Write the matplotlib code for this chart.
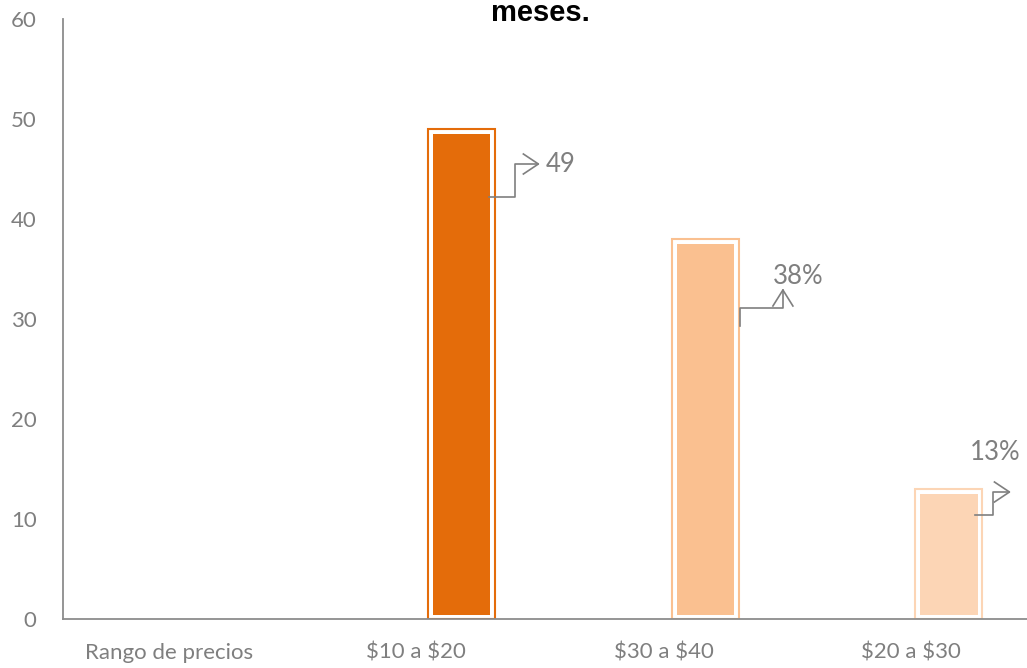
import matplotlib
matplotlib.use('Agg')
import matplotlib.pyplot as plt
import numpy as np

plt.rcParams['font.family'] = ['Lato', 'DejaVu Sans']
plt.rcParams['text.parse_math'] = False

# datos
categorias = ['Rango de precios', '$10 a $20', '$30 a $40', '$20 a $30']
valores = [0, 49, 38, 13]
etiquetas = ['', '49', '38%', '13%']
colores = ['#E46C0A', '#E46C0A', '#FAC090', '#FCD5B5']

gris = '#7F7F7F'
eje = '#8C8C8C'

fig = plt.figure(figsize=(10.27, 6.68), dpi=100)
ax = fig.add_axes([63 / 1027, 49 / 668, 1 - 63 / 1027, 600 / 668])

x = np.arange(len(categorias))
v = np.array(valores, dtype=float)
hay = v > 0
desplaz = 0.175   # la serie va corrida a la derecha dentro de cada categoria
ancho = 0.272
xb = x + desplaz - 0.016 * (x - 1.5)

# borde exterior + hueco blanco + relleno interior
ax.bar(xb[hay], v[hay], width=ancho, color='none',
       edgecolor=[c for c, h in zip(colores, hay) if h], linewidth=1.5, zorder=2)
ins_x = 0.02
ins_y = 0.45
ax.bar(xb[hay], v[hay] - 2 * ins_y, bottom=ins_y, width=ancho - 2 * ins_x,
       color=[c for c, h in zip(colores, hay) if h], edgecolor='none', zorder=3)

ax.set_xlim(-0.428, 3.467)
ax.set_ylim(0, 60)
ax.set_yticks(range(0, 61, 10))
ax.set_xticks(x)
ax.set_xticklabels(categorias)
ax.tick_params(axis='both', length=0, colors=gris, labelsize=16)
ax.tick_params(axis='y', pad=19)
ax.tick_params(axis='x', pad=17)
for s in ['top', 'right']:
    ax.spines[s].set_visible(False)
for s in ['left', 'bottom']:
    ax.spines[s].set_color(eje)
    ax.spines[s].set_linewidth(1.3)

fig.text(540 / 1027, 1 - 21 / 668, 'meses.', ha='center', va='baseline',
         fontsize=21, fontweight='bold', family='Liberation Sans', color='black')

# lineas guia de las etiquetas (en pixeles, desde la esquina sup. derecha de la barra)
guias = [
    None,
    dict(path=[(-6, -68), (20, -68), (20, -35), (43, -35)], flecha='der', texto=(50, -35), ha='left'),
    dict(path=[(1, -87), (1, -69), (44, -69), (44, -51)], flecha='arr', texto=(59, -38), ha='center'),
    dict(path=[(-7, -26), (11, -26), (11, -3), (27, -3)], flecha='der', texto=(13, 36), ha='center'),
]

fig.canvas.draw()
for i, g in enumerate(guias):
    if g is None:
        continue
    ax0, ay0 = ax.transData.transform((xb[i] + ancho / 2, valores[i]))
    px = [ax0 + p[0] for p in g['path']]
    py = [ay0 + p[1] for p in g['path']]
    ax.plot(px, py, color=gris, lw=1.2, transform=None, zorder=4, clip_on=False)
    tx, ty = px[-1], py[-1]
    if g['flecha'] == 'der':
        wx = [tx - 15, tx, tx - 15]
        wy = [ty + 10, ty, ty - 10]
    else:
        wx = [tx - 10, tx, tx + 10]
        wy = [ty - 16, ty, ty - 16]
    ax.plot(wx, wy, color=gris, lw=1.2, transform=None, zorder=4, clip_on=False)
    ax.text(ax0 + g['texto'][0], ay0 + g['texto'][1], etiquetas[i], transform=None,
            ha=g['ha'], va='center', fontsize=18.5, color=gris)

fig.savefig('out.png', dpi=100)
